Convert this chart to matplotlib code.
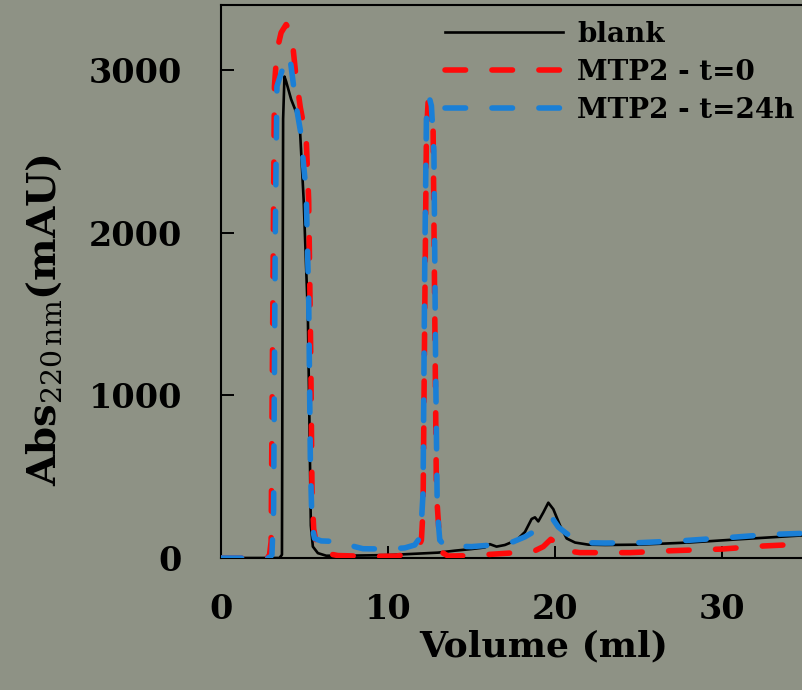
import matplotlib
matplotlib.use("Agg")
import matplotlib.pyplot as plt

# ---------------- data ----------------
blank_x = [0, 3.5, 3.65, 3.72, 3.8, 3.9, 4.2, 4.7, 4.95, 5.2, 5.3, 5.38, 5.5, 5.8, 6.3,
           8, 10, 12, 13, 14, 15, 15.8, 16.1, 16.5, 17, 17.7, 18.2, 18.6, 18.8, 19.0,
           19.3, 19.6, 19.9, 20.3, 20.7, 21.2, 22, 23, 25, 28, 31, 35, 40]
blank_y = [0, 0, 20, 2700, 2960, 2930, 2820, 2690, 2200, 1500, 800, 200, 70, 30, 14,
           15, 18, 28, 33, 45, 55, 65, 85, 70, 80, 110, 160, 240, 250, 225,
           280, 340, 300, 200, 120, 95, 82, 80, 82, 95, 115, 140, 155]

t0_x = [0, 2.75, 2.9, 3.0, 3.1, 3.2, 3.35, 3.6, 3.9, 4.1, 4.3, 4.5, 4.75, 5.1, 5.25,
        5.38, 5.45, 5.55, 5.75, 6.0, 7.0, 9, 10.5, 11.3, 11.8, 12.0, 12.1, 12.2, 12.3,
        12.4, 12.55, 12.7, 12.8, 12.9, 13.1, 13.3, 13.6, 15, 16.5, 18, 18.8, 19.3,
        19.75, 20.1, 20.6, 21.5, 24.5, 27, 30, 32.5, 35, 40]
t0_y = [0, 0, 15, 100, 1500, 2900, 3120, 3230, 3280, 3250, 3150, 2950, 2770, 2580, 2200,
        1200, 400, 180, 60, 35, 15, 10, 12, 25, 60, 110, 300, 1500, 2600,
        2800, 2780, 2650, 1500, 400, 90, 30, 12, 15, 25, 35, 45, 70,
        115, 90, 45, 33, 33, 45, 55, 74, 86, 100]

t24_x = [0, 2.9, 3.05, 3.15, 3.25, 3.35, 3.6, 3.85, 4.0, 4.15, 4.3, 4.5, 4.75, 5.1,
         5.25, 5.35, 5.45, 5.6, 6.0, 7.3, 8.0, 8.5, 10, 11, 11.6, 11.95, 12.1, 12.2,
         12.3, 12.45, 12.6, 12.75, 12.85, 12.95, 13.1, 13.4, 15, 16.5, 17.5, 18.2,
         18.9, 19.3, 19.6, 19.9, 20.2, 20.7, 21.3, 21.9, 23, 25, 27.6, 30.3, 32.9, 35, 40]
t24_y = [0, 0, 20, 300, 2000, 2900, 2980, 3050, 3090, 3060, 2940, 2780, 2630, 2250,
         1600, 600, 200, 120, 105, 100, 70, 57, 55, 62, 80, 130, 400, 1800,
         2700, 2840, 2780, 2500, 1200, 300, 110, 75, 70, 82, 100, 130,
         172, 215, 225, 235, 190, 150, 110, 94, 92, 94, 106, 125, 145, 152, 165]

labels = ["blank", "MTP2 - t=0", "MTP2 - t=24h"]
x_ticks = [0, 10, 20, 30]
y_ticks = [0, 1000, 2000, 3000]

# ---------------- styling ----------------
BG = "#8e9285"
plt.rcParams["mathtext.fontset"] = "dejavuserif"
FONT = ["DejaVu Serif"]

W, H = 802, 690
fig = plt.figure(figsize=(W / 100, H / 100), dpi=100, facecolor=BG)

left_px, right_px = 221, 221 + 16.7 * 40
bottom_px, top_px = 558, 5
ax = fig.add_axes([left_px / W, 1 - bottom_px / H,
                   (right_px - left_px) / W, (bottom_px - top_px) / H])
ax.set_facecolor(BG)

ax.plot(blank_x, blank_y, color="black", lw=1.9, label=labels[0], zorder=2)
ax.plot(t0_x, t0_y, color="#ff0a0a", lw=4.0, label=labels[1], zorder=3,
        dashes=(3.7, 4.75), dash_capstyle="round")
ax.plot(t24_x, t24_y, color="#1a7fd6", lw=4.0, label=labels[2], zorder=4,
        dashes=(3.7, 4.75), dash_capstyle="round")

ax.set_xlim(0, 40)
ax.set_ylim(0, 3400)
ax.set_xticks(x_ticks)
ax.set_yticks(y_ticks)
ax.set_xticklabels([str(v) for v in x_ticks])
ax.set_yticklabels([str(v) for v in y_ticks])
ax.tick_params(axis="both", direction="in", length=9, width=1.4, colors="black")
ax.tick_params(axis="y", pad=28)
ax.tick_params(axis="x", pad=25)
for lab in ax.get_xticklabels() + ax.get_yticklabels():
    lab.set_fontfamily(FONT)
    lab.set_fontweight("bold")
    lab.set_fontsize(24)
for sp in ax.spines.values():
    sp.set_linewidth(1.5)
    sp.set_color("black")

# axis titles
fig.text(544 / W, 1 - 646 / H, "Volume (ml)", fontfamily=FONT, fontweight="bold",
         fontsize=26, ha="center", va="center", color="black")
fig.text(45 / W, 1 - 320 / H,
         r"$\mathbf{Abs}_{\mathrm{220\,nm}}\mathbf{(mAU)}$",
         fontsize=29, rotation=90, ha="center", va="center", color="black")

leg = ax.legend(loc="upper left", bbox_to_anchor=(445 / W, 1 - 21 / H),
                bbox_transform=fig.transFigure, frameon=False,
                prop={"family": FONT, "weight": "bold", "size": 20},
                handlelength=4.25, handletextpad=0.5, labelspacing=0.4,
                borderpad=0, borderaxespad=0)
for t in leg.get_texts():
    t.set_color("black")

fig.savefig("out.png", dpi=100, facecolor=BG)
